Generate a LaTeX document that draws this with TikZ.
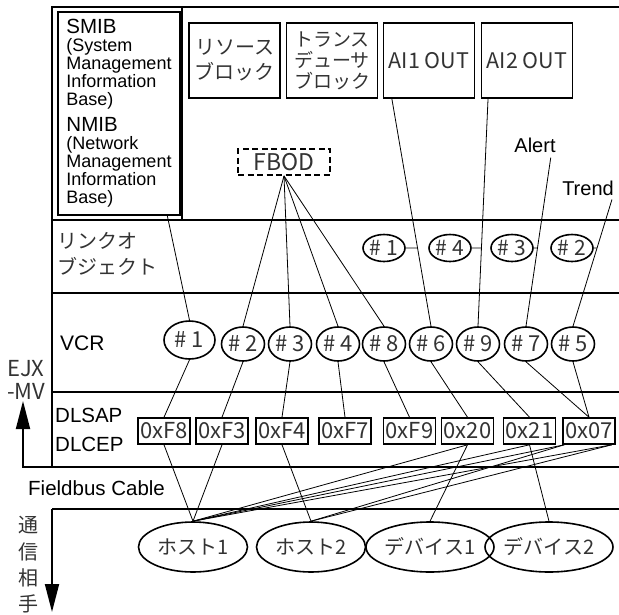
\documentclass[tikz,border=0pt]{standalone}
\usepackage{fontspec}
\setmainfont{Liberation Sans}
\newfontfamily\jp{Noto Sans CJK JP}
\usepackage{tikz}
\usetikzlibrary{shapes.geometric, calc, arrows.meta}

\begin{document}
\begin{tikzpicture}[
        x=1pt, y=-1pt,
        layer/.style={line width=1.8pt},
        wire/.style={line width=0.8pt},
        block/.style={
            rectangle,
            draw,
            line width=1.8pt,
            minimum width=91pt,
            minimum height=75pt,
            inner sep=0pt,
            align=center,
            text=black!80
        },
        addr/.style={
            rectangle,
            draw,
            line width=1.6pt,
            minimum width=52pt,
            minimum height=26pt,
            inner sep=1pt,
            text=black!80,
            font=\jp\fontsize{22}{22}\selectfont
        },
        vcr/.style={
            ellipse,
            draw,
            line width=1.6pt,
            minimum width=43pt,
            minimum height=34pt,
            inner sep=0pt,
            text=black!80,
            font=\jp\fontsize{22}{22}\selectfont
        },
        lnk/.style={
            ellipse,
            draw,
            line width=1.6pt,
            minimum width=42pt,
            minimum height=27pt,
            inner sep=0pt,
            text=black!80,
            font=\jp\fontsize{21}{21}\selectfont
        },
        peer/.style={
            ellipse,
            draw,
            line width=1.6pt,
            minimum width=109pt,
            minimum height=50pt,
            inner sep=0pt,
            text=black!80,
            font=\jp\fontsize{20}{20}\selectfont
        },
        tag/.style={inner sep=0pt, font=\fontsize{20}{20}\selectfont}
    ]

        \useasboundingbox (0,0) rectangle (619,614);

        % Layer frame
        \draw[layer] (619,7) -- (52,7) -- (52,467);
        \draw[layer] (182,7) -- (182,220);
        \draw[layer] (52,220) -- (619,220);
        \draw[layer] (52,293) -- (619,293);
        \draw[layer] (52,392) -- (619,392);
        \draw[layer, -{Triangle[length=28pt,width=14pt]}] (619,467) -- (23,467) -- (23,401);
        \draw[layer] (619,509) -- (52,509);
        \draw[layer, -{Triangle[length=28pt,width=14pt]}] (52,509) -- (52,612);

        % Layer labels
        \node[tag, anchor=west, align=left, text=black!80, font=\jp\fontsize{20}{26}\selectfont] (lnklab) at (57,254) {リンクオ\\ブジェクト};
        \node[tag, anchor=west, font=\fontsize{21}{21}\selectfont] (vcrlab) at (60,343) {VCR};
        \node[tag, anchor=west, align=left, font=\fontsize{20.5}{29}\selectfont] (dllab) at (55,430) {DLSAP\\DLCEP};
        \node[tag, anchor=west, align=left, text=black!80, font=\jp\fontsize{22}{23}\selectfont] (ejx) at (7,380) {EJX\\-MV};
        \node[tag, anchor=west, font=\fontsize{20.5}{20.5}\selectfont] (cable) at (28,488) {Fieldbus Cable};
        \node[tag, align=center, text=black!80, font=\jp\fontsize{20}{26.3}\selectfont] (peerlab) at (28,565) {通\\信\\相\\手};

        % Function block layer
        \node[draw, line width=2pt, minimum width=122pt, minimum height=203pt, inner sep=0pt,
              align=left, font=\fontsize{18}{18}\selectfont] (mib) at (119,113.5)
            {{\fontsize{20.5}{18}\selectfont SMIB}\\(System\\Management\\Information\\Base)\\[8pt]%
             {\fontsize{20.5}{18}\selectfont NMIB}\\(Network\\Management\\Information\\Base)};
        \node[block, font=\jp\fontsize{20}{25}\selectfont] (res) at (234.5,60.5) {リソース\\ブロック};
        \node[block, font=\jp\fontsize{19}{21}\selectfont] (trd) at (332,60.5) {トランス\\デューサ\\ブロック};
        \node[block, font=\jp\fontsize{21.5}{21.5}\selectfont] (ai1) at (429,60.5) {AI1 OUT};
        \node[block, font=\jp\fontsize{21.5}{21.5}\selectfont] (ai2) at (527,60.5) {AI2 OUT};
        \node[draw, line width=1.8pt, dash pattern=on 6pt off 3.5pt, minimum width=92pt, minimum height=26pt,
              inner sep=0pt, text=black!80, font=\jp\fontsize{23}{23}\selectfont] (fbod) at (284,162) {FBOD};
        \node[tag] (alert) at (535,145) {Alert};
        \node[tag] (trend) at (588,188) {Trend};

        % Link objects
        \node[lnk] (l1) at (384,248) {\# 1};
        \node[lnk] (l4) at (450,248) {\# 4};
        \node[lnk] (l3) at (512,248) {\# 3};
        \node[lnk] (l2) at (572,248) {\# 2};

        % VCR
        \node[vcr, minimum width=51pt, minimum height=38pt] (v1) at (189.5,340) {\# 1};
        \node[vcr] (v2) at (243,344) {\# 2};
        \node[vcr] (v3) at (290,344) {\# 3};
        \node[vcr] (v4) at (338,344) {\# 4};
        \node[vcr] (v8) at (384,344) {\# 8};
        \node[vcr] (v6) at (431,344) {\# 6};
        \node[vcr] (v9) at (478,344) {\# 9};
        \node[vcr] (v7) at (526,344) {\# 7};
        \node[vcr] (v5) at (573,344) {\# 5};

        % DLSAP / DLCEP
        \node[addr] (dF8) at (164,431) {0xF8};
        \node[addr] (dF3) at (222,431) {0xF3};
        \node[addr] (dF4) at (282,431) {0xF4};
        \node[addr] (dF7) at (345,431) {0xF7};
        \node[addr] (dF9) at (409.5,431) {0xF9};
        \node[addr] (d20) at (467.5,431) {0x20};
        \node[addr] (d21) at (529.5,431) {0x21};
        \node[addr] (d07) at (589,431) {0x07};

        % Hosts and devices
        \node[peer] (h1) at (193,547) {ホスト1};
        \node[peer] (h2) at (311,547) {ホスト2};
        \node[peer] (dv1) at (430,547) {デバイス1};
        \node[peer] (dv2) at (549,547) {デバイス2};

        % Blocks to VCR
        \draw[wire] ($(mib.south west)!0.89!(mib.south east)$) -- (v1.north);
        \foreach \v in {v2,v3,v4,v8}
            \draw[wire] (fbod.south) -- (\v.north);
        \draw[wire] ($(ai1.south west)!0.1!(ai1.south east)$) coordinate (a1) -- (v6.north);
        \draw[wire] ($(ai2.south west)!0.08!(ai2.south east)$) coordinate (a2) -- (v9.north);
        \draw[wire] ([shift={(-5pt,-5pt)}]alert.south east) coordinate (a3) -- (v7.north);
        \draw[wire] ([shift={(-2pt,-4pt)}]trend.south east) coordinate (a4) -- (v5.north);

        % Link objects to their lines
        \draw[wire] (l1.east) -- (intersection of l1.west--l1.east and a1--v6.north);
        \draw[wire] (l4.east) -- (intersection of l4.west--l4.east and a2--v9.north);
        \draw[wire] (l3.east) -- (intersection of l3.west--l3.east and a3--v7.north);
        \draw[wire] (l2.east) -- (intersection of l2.west--l2.east and a4--v5.north);

        % VCR to DLSAP
        \draw[wire] (v1.south) -- (dF8.north);
        \draw[wire] (v2.south) -- (dF3.north);
        \draw[wire] (v3.south) -- (dF4.north);
        \draw[wire] (v4.south) -- (dF7.north);
        \draw[wire] (v8.south) -- (dF9.north);
        \draw[wire] (v6.south) -- (d20.north);
        \draw[wire] (v9.south) -- (d21.north);
        \draw[wire] (v7.south) -- (d07.north);
        \draw[wire] (v5.south) -- (d07.north);

        % DLSAP to peers
        \draw[wire] (dF8.south) -- (h1.north);
        \draw[wire] (dF3.south) -- (h1.north);
        \draw[wire] (dF4.south) -- (h2.north);
        \draw[wire] (d20.south) -- (h1.north);
        \draw[wire] (d20.south) -- (dv1.north);
        \draw[wire] (d21.south) -- (h1.north);
        \draw[wire] (d21.south) -- (dv2.north);
        \coordinate (p07a) at ([xshift=2pt]d07.south west);
        \coordinate (p07b) at ([xshift=-4pt]d07.south east);
        \foreach \p in {p07a,p07b}
            \foreach \h in {h1,h2}
                \draw[wire] (\p) -- (\h.north);

    \end{tikzpicture}
\end{document}
